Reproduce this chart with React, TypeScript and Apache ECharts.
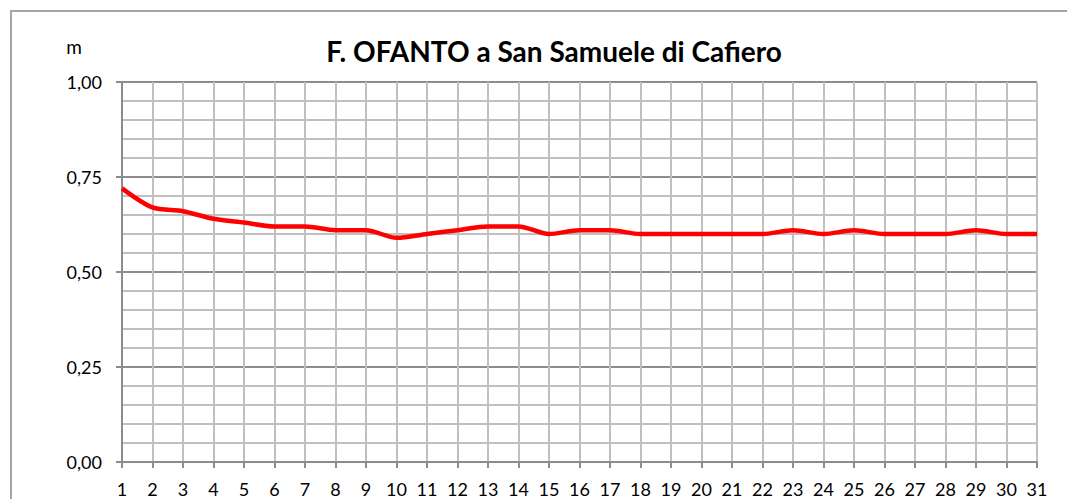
import React, { useEffect, useRef } from "react";
import * as echarts from "echarts";

const days: string[] = Array.from({ length: 31 }, (_, i) => String(i + 1));
const levels: number[] = [
  0.72, 0.67, 0.66, 0.64, 0.63, 0.62, 0.62, 0.61, 0.61, 0.59,
  0.6, 0.61, 0.62, 0.62, 0.6, 0.61, 0.61, 0.6, 0.6, 0.6,
  0.6, 0.6, 0.61, 0.6, 0.61, 0.6, 0.6, 0.6, 0.61, 0.6, 0.6,
];
const titleText = "F. OFANTO a San Samuele di Cafiero";
const unitText = "m";

export default function App() {
  const ref = useRef<HTMLDivElement>(null);
  useEffect(() => {
    if (!ref.current) return;
    const chart = echarts.init(ref.current, null, { renderer: "svg" });
    const font = "Lato, 'Open Sans', sans-serif";
    chart.setOption({
      animation: false,
      backgroundColor: "#ffffff",
      textStyle: { fontFamily: font },
      title: {
        text: titleText,
        left: 549,
        top: 32,
        textAlign: "center",
        textStyle: { fontFamily: font, fontSize: 28, fontWeight: "bold", color: "#000" },
      },
      graphic: [
        {
          type: "rect",
          shape: { x: 11, y: 11, width: 1080, height: 520 },
          style: { fill: "none", stroke: "#a6a6a6", lineWidth: 2 },
          silent: true,
        },
        {
          type: "text",
          x: 74,
          y: 46,
          style: { text: unitText, fontFamily: font, fontSize: 19, fill: "#000", align: "center", verticalAlign: "middle" },
        },
      ],
      grid: { left: 122, top: 82, right: 30, bottom: 37, containLabel: false },
      xAxis: {
        type: "category",
        data: days,
        boundaryGap: false,
        axisLine: { lineStyle: { color: "#8c8c8c", width: 2 } },
        axisTick: { show: true, length: 6, lineStyle: { color: "#8c8c8c", width: 2 } },
        axisLabel: { color: "#000", fontSize: 18, margin: 18, interval: 0, fontFamily: font },
        splitLine: { show: true, lineStyle: { color: "#c0c0c0", width: 2 } },
      },
      yAxis: {
        type: "value",
        min: 0,
        max: 1,
        interval: 0.25,
        axisLine: { show: true, lineStyle: { color: "#8c8c8c", width: 2 } },
        axisTick: { show: true, length: 6, lineStyle: { color: "#8c8c8c", width: 2 } },
        axisLabel: {
          color: "#000",
          fontSize: 18,
          margin: 20,
          fontFamily: font,
          formatter: (v: number) => v.toFixed(2).replace(".", ","),
        },
        splitLine: { show: true, lineStyle: { color: "#8c8c8c", width: 2 } },
        minorTick: { show: false, splitNumber: 5 },
        minorSplitLine: { show: true, lineStyle: { color: "#c0c0c0", width: 2 } },
      },
      series: [
        {
          type: "line",
          data: levels,
          smooth: 0.3,
          symbol: "none",
          lineStyle: { color: "#ff0000", width: 4.5 },
          z: 5,
        },
      ],
    });
    return () => chart.dispose();
  }, []);
  return (
    <div
      ref={ref}
      style={{ position: "fixed", left: 0, top: 0, width: 1067, height: 499 }}
    />
  );
}
